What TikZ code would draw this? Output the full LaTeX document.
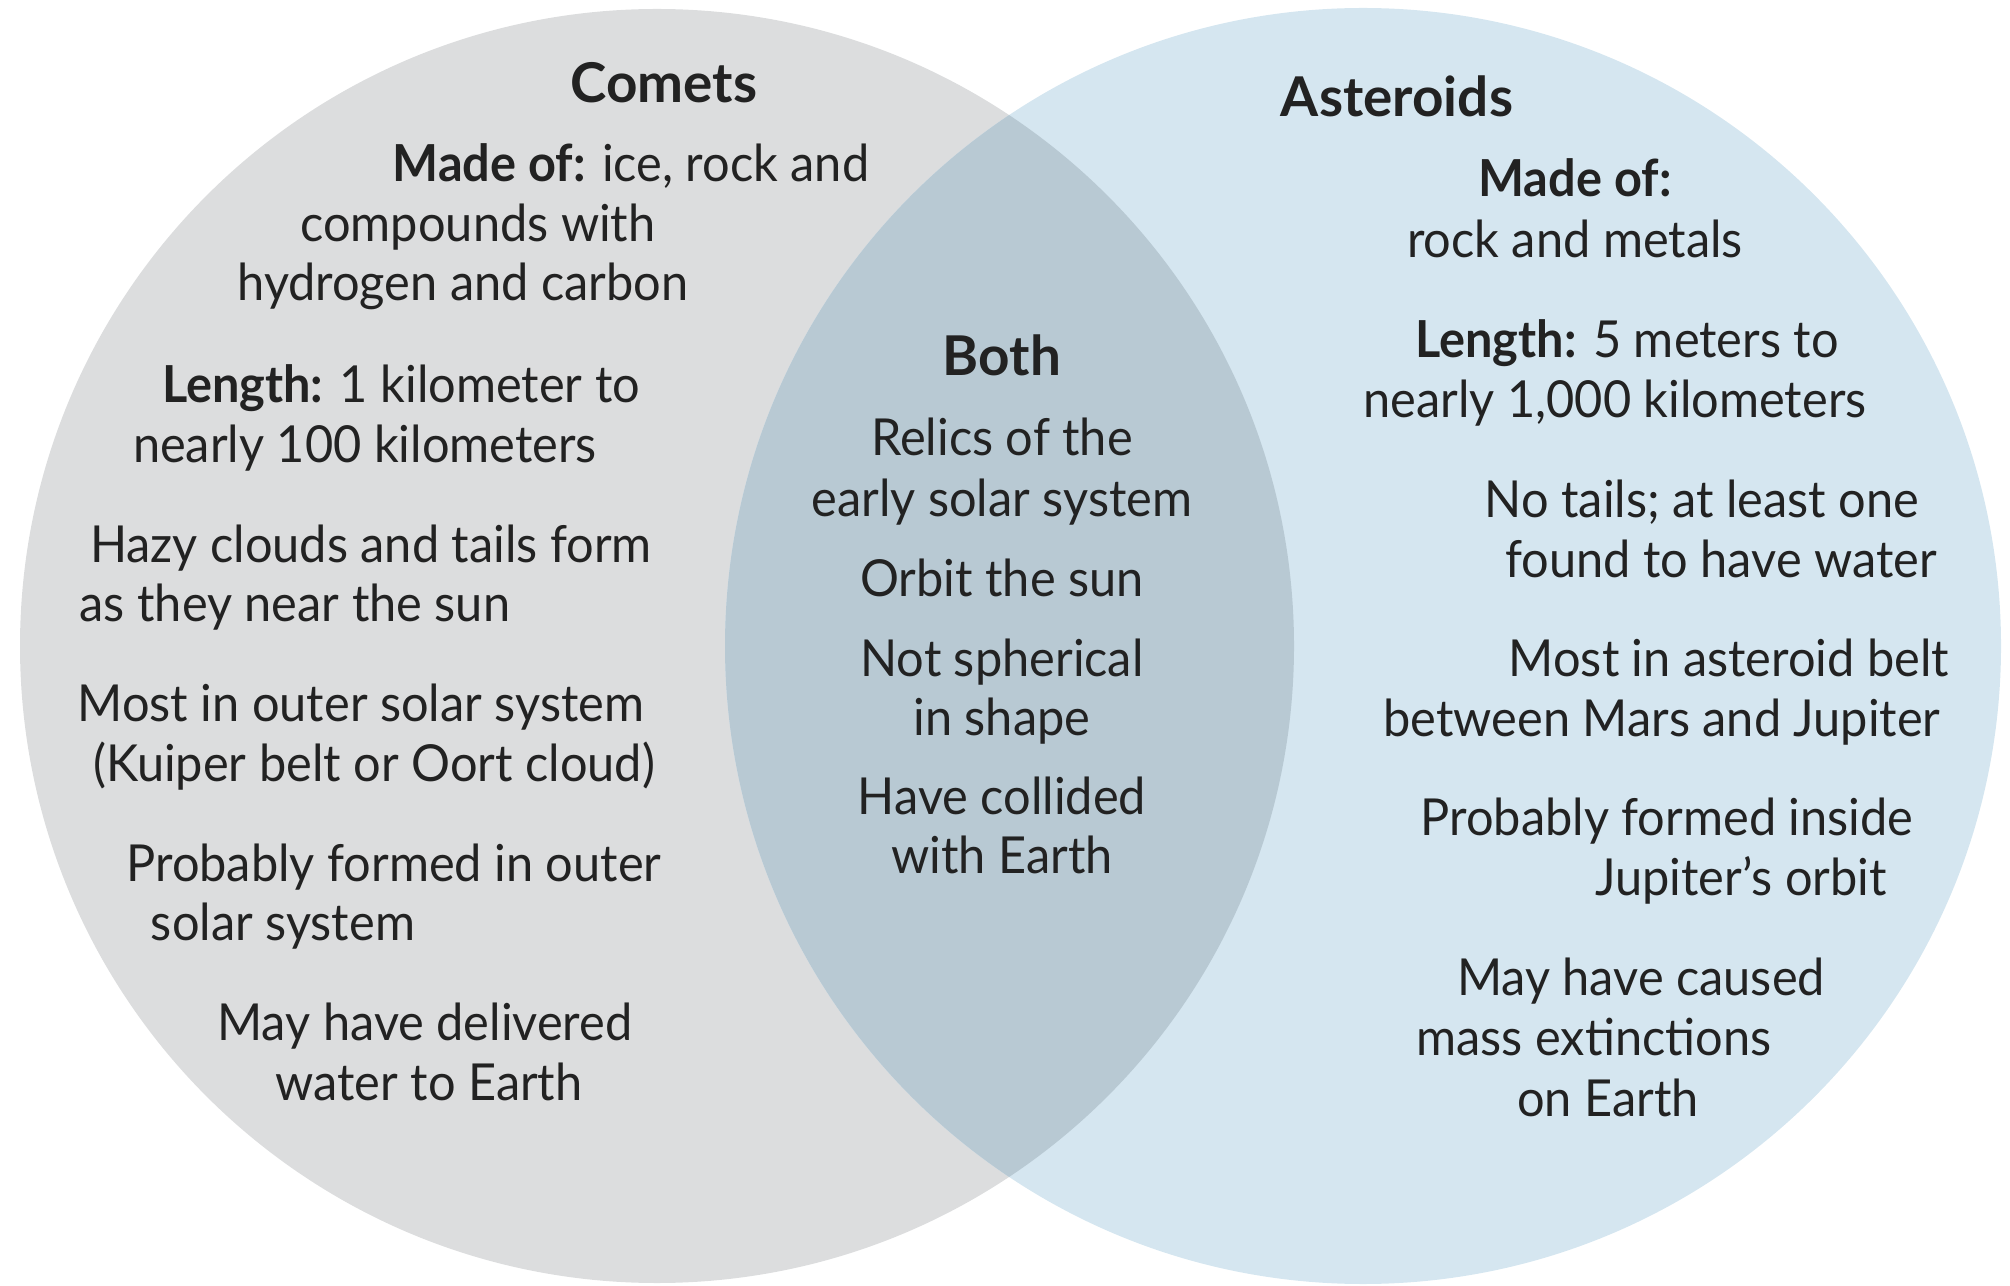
\documentclass[tikz,border=0pt]{standalone}
\usepackage{fontspec}
\setmainfont{Lato}[FakeStretch=0.955]
\newfontfamily\headfont{Lato}
\usetikzlibrary{positioning}

\definecolor{cometgray}{HTML}{DCDDDE}
\definecolor{asterblue}{HTML}{D5E6F0}
\definecolor{bothblue}{HTML}{B8C9D3}
\definecolor{inkgray}{HTML}{222222}

\begin{document}
\begin{tikzpicture}[
    x=0.01cm, y=-0.01cm,
    % estilos de texto
    txt/.style  = {font=\fontsize{14.5}{17}\selectfont, text=inkgray, inner sep=0pt, anchor=mid},
    head/.style = {txt, font=\headfont\fontsize{15.6}{18}\selectfont\bfseries}
]
\useasboundingbox (0,0) rectangle (2010,1286);

% ===============================
% 1. Circulos
% ===============================
\fill[cometgray] (657,646) circle (637);
\fill[asterblue] (1363,646) circle (638);
\begin{scope}
    \clip (657,646) circle (637);
    \fill[bothblue] (1363,646) circle (638);
\end{scope}

% ===============================
% 2. Comets
% ===============================
\node (comets) [head] at (664,94) {Comets};
\node (cm1) [txt] at (631,173) {\textbf{Made of:} ice, rock and};
\node (cm2) [txt] at (478,233) {compounds with};
\node (cm3) [txt] at (463,292) {hydrogen and carbon};
\node (cl1) [txt] at (401,394) {\textbf{Length:} 1 kilometer to};
\node (cl2) [txt] at (365,454) {nearly 100 kilometers};
\node (ch1) [txt] at (371,554) {Hazy clouds and tails form};
\node (ch2) [txt] at (295,613) {as they near the sun};
\node (co1) [txt] at (361,713) {Most in outer solar system};
\node (co2) [txt] at (374,773) {(Kuiper belt or Oort cloud)};
\node (cp1) [txt] at (394,873) {Probably formed in outer};
\node (cp2) [txt] at (283,932) {solar system};
\node (cw1) [txt] at (425,1032) {May have delivered};
\node (cw2) [txt] at (429,1092) {water to Earth};

% ===============================
% 3. Both
% ===============================
\node (both) [head] at (1002,367) {Both};
\node (br1) [txt] at (1002,447) {Relics of the};
\node (br2) [txt] at (1002,508) {early solar system};
\node (bo1) [txt] at (1002,588) {Orbit the sun};
\node (bs1) [txt] at (1002,668) {Not spherical};
\node (bs2) [txt] at (1002,727) {in shape};
\node (bc1) [txt] at (1002,806) {Have collided};
\node (bc2) [txt] at (1002,865) {with Earth};

% ===============================
% 4. Asteroids
% ===============================
\node (asteroids) [head] at (1397,108) {Asteroids};
\node (am1) [txt] at (1575,188) {\textbf{Made of:}};
\node (am2) [txt] at (1575,249) {rock and metals};
\node (al1) [txt] at (1627,349) {\textbf{Length:} 5 meters to};
\node (al2) [txt] at (1615,409) {nearly 1,000 kilometers};
\node (at1) [txt] at (1702,509) {No tails; at least one};
\node (at2) [txt] at (1721,569) {found to have water};
\node (ab1) [txt] at (1729,668) {Most in asteroid belt};
\node (ab2) [txt] at (1662,728) {between Mars and Jupiter};
\node (ap1) [txt] at (1667,827) {Probably formed inside};
\node (ap2) [txt] at (1741,887) {Jupiter’s orbit};
\node (ae1) [txt] at (1641,987) {May have caused};
\node (ae2) [txt] at (1594,1047) {mass extinctions};
\node (ae3) [txt] at (1608,1108) {on Earth};

\end{tikzpicture}
\end{document}
